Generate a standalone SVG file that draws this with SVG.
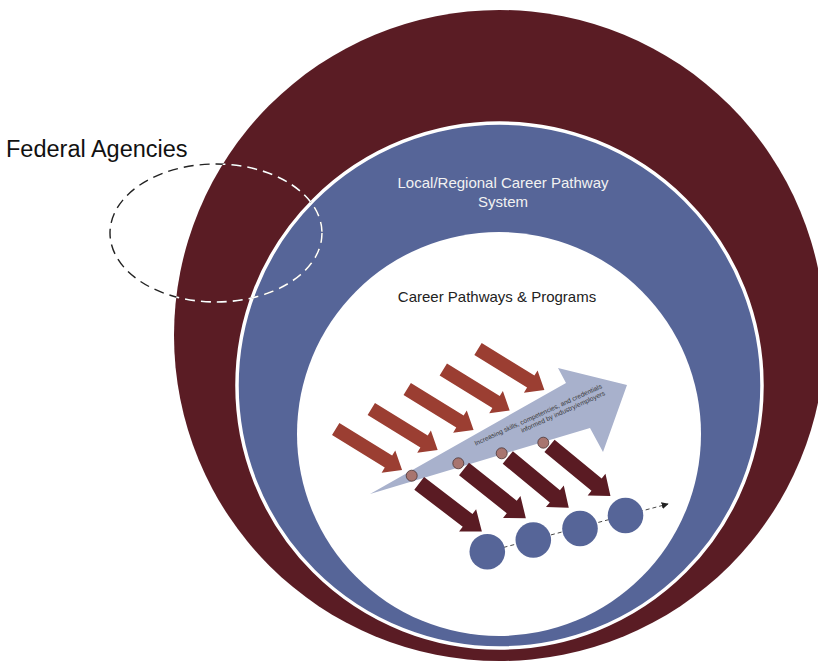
<svg xmlns="http://www.w3.org/2000/svg" width="818" height="663" viewBox="0 0 818 663">
<defs>
<style>
.lbl{font-family:"Liberation Sans",Arial,sans-serif}
.red{fill:#9B3E32}
.dark{fill:#5A1B23}
.dot{fill:#A8756F;stroke:#4A3434;stroke-width:0.8}
.step{fill:#566598}
.tiny{font-family:"Liberation Sans",Arial,sans-serif;font-size:6.6px;fill:#3a3a3a}
</style>
<path id="ra" d="M0,-7 L62,-7 L62,-13 L78,0 L62,13 L62,7 L0,7 Z"/>
<path id="da" d="M0,-8 L61,-8 L61,-14 L79,0 L61,14 L61,8 L0,8 Z"/>
<marker id="tip" viewBox="0 0 10 10" refX="9" refY="5" markerWidth="7" markerHeight="7" markerUnits="userSpaceOnUse" orient="auto">
<path d="M0,0 L10,5 L0,10 Z" fill="#222"/>
</marker>
<clipPath id="inOuter"><circle cx="499.5" cy="335.5" r="325.5"/></clipPath>
</defs>
<rect width="818" height="663" fill="#ffffff"/>

<g id="outer-circle">
<circle cx="499.5" cy="335.5" r="325.5" fill="#5A1C24"/>
</g>

<g id="system-circle">
<circle cx="499.5" cy="385.5" r="262.5" fill="#566598" stroke="#ffffff" stroke-width="3.5"/>
<text class="lbl" x="503" y="188" font-size="15" fill="#F2F2F2" text-anchor="middle">Local/Regional Career Pathway</text>
<text class="lbl" x="503" y="207" font-size="15" fill="#F2F2F2" text-anchor="middle">System</text>
</g>

<g id="programs-circle">
<circle cx="499" cy="434" r="202" fill="#ffffff"/>
<text class="lbl" x="497" y="302" font-size="15" fill="#222222" text-anchor="middle">Career Pathways &amp; Programs</text>
</g>

<g id="pathway-arrow">
<polygon points="370,494 566,383 558,368 627,385 603,452 590,428" fill="#A8B1CC"/>
<g transform="translate(475,446) rotate(-24.5)">
<text class="tiny" x="140" y="0" text-anchor="end">Increasing skills, competencies, and credentials</text>
<text class="tiny" x="140" y="7.5" text-anchor="end">informed by industry/employers</text>
</g>
</g>

<g id="inputs">
<use href="#ra" class="red" transform="translate(335.7,429) rotate(31.7)"/>
<use href="#ra" class="red" transform="translate(371.3,409) rotate(31.7)"/>
<use href="#ra" class="red" transform="translate(407.2,389) rotate(31.7)"/>
<use href="#ra" class="red" transform="translate(443.3,369.5) rotate(31.7)"/>
<use href="#ra" class="red" transform="translate(478,349) rotate(31.7)"/>
</g>

<g id="outputs">
<use href="#da" class="dark" transform="translate(419.2,483.3) rotate(37.5)"/>
<use href="#da" class="dark" transform="translate(464,469) rotate(38.5)"/>
<use href="#da" class="dark" transform="translate(507.8,457.5) rotate(39.5)"/>
<use href="#da" class="dark" transform="translate(549.5,445.8) rotate(39.5)"/>
</g>

<g id="milestones">
<circle class="dot" cx="411.7" cy="475.7" r="5.5"/>
<circle class="dot" cx="458.3" cy="463.3" r="5.5"/>
<circle class="dot" cx="501.7" cy="453.3" r="5.5"/>
<circle class="dot" cx="543.3" cy="442.7" r="5.5"/>
</g>

<g id="connectors">
<line x1="490" y1="551" x2="668" y2="504" stroke="#333" stroke-width="0.9" stroke-dasharray="4 3" marker-end="url(#tip)"/>
</g>

<g id="steps">
<circle class="step" cx="487.3" cy="551.7" r="17.8"/>
<circle class="step" cx="533.3" cy="540" r="17.8"/>
<circle class="step" cx="580" cy="528.5" r="17.8"/>
<circle class="step" cx="625.5" cy="515.5" r="17.8"/>
</g>

<g id="federal-agencies">
<ellipse cx="216" cy="233" rx="106" ry="69" fill="none" stroke="#222" stroke-width="1.4" stroke-dasharray="10 6"/>
<ellipse cx="216" cy="233" rx="106" ry="69" fill="none" stroke="#ffffff" stroke-width="1.6" stroke-dasharray="10 6" clip-path="url(#inOuter)"/>
<text class="lbl" x="6" y="157" font-size="23.5" fill="#111">Federal Agencies</text>
</g>
</svg>
